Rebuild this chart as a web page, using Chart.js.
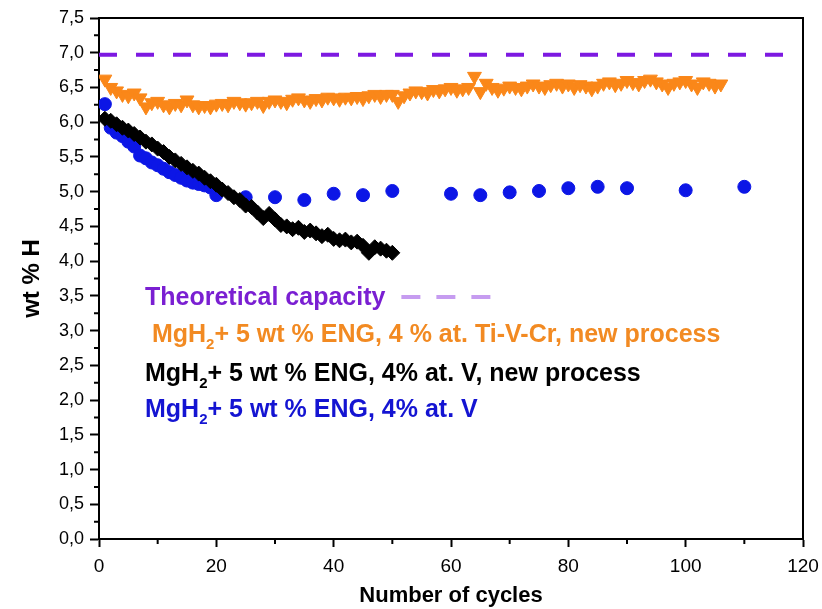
<!DOCTYPE html>
<html>
<head>
<meta charset="utf-8">
<script src="https://cdn.jsdelivr.net/npm/chart.js@4.4.0/dist/chart.umd.min.js"></script>
<style>
    html, body { margin: 0; padding: 0; background: #fff; }
    #wrap { width: 822px; height: 609px; }
</style>
</head>
<body>
<div id="wrap"><canvas id="cap" width="822" height="609"></canvas></div>
<script>
// theoretical capacity
const theoCycles = [0, 120];
const theoValues = [6.97, 6.97];

// MgH2 + 5 wt % ENG, 4 % at. Ti-V-Cr, new process (cycles 1..106)
const orangeValues = [
    6.62, 6.50, 6.45, 6.40, 6.38, 6.42, 6.35, 6.22, 6.28, 6.30,
    6.25, 6.22, 6.27, 6.25, 6.32, 6.25, 6.22, 6.24, 6.22, 6.26,
    6.27, 6.25, 6.30, 6.28, 6.26, 6.28, 6.30, 6.24, 6.30, 6.32,
    6.30, 6.28, 6.33, 6.35, 6.32, 6.30, 6.34, 6.32, 6.36, 6.35,
    6.33, 6.36, 6.35, 6.37, 6.34, 6.38, 6.40, 6.37, 6.40, 6.40,
    6.30, 6.38, 6.42, 6.45, 6.44, 6.42, 6.47, 6.45, 6.48, 6.50,
    6.46, 6.48, 6.50, 6.66, 6.44, 6.56, 6.50, 6.46, 6.49, 6.52,
    6.50, 6.48, 6.52, 6.55, 6.52, 6.50, 6.54, 6.56, 6.52, 6.55,
    6.50, 6.54, 6.52, 6.48, 6.52, 6.56, 6.58, 6.54, 6.56, 6.60,
    6.57, 6.55, 6.60, 6.62, 6.58, 6.55, 6.50, 6.56, 6.58, 6.60,
    6.55, 6.50, 6.58, 6.56, 6.52, 6.55
];

// MgH2 + 5 wt % ENG, 4% at. V, new process (cycles 1..50)
const blackValues = [
    6.05, 6.02, 5.97, 5.92, 5.88, 5.83, 5.78, 5.72, 5.68, 5.62,
    5.57, 5.50, 5.45, 5.40, 5.35, 5.30, 5.26, 5.20, 5.15, 5.10,
    5.03, 4.98, 4.92, 4.88, 4.80, 4.78, 4.70, 4.62, 4.68, 4.60,
    4.52, 4.50, 4.46, 4.48, 4.42, 4.44, 4.40, 4.36, 4.38, 4.32,
    4.30, 4.31, 4.27, 4.28, 4.22, 4.12, 4.20, 4.18, 4.15, 4.12
];

// MgH2 + 5 wt % ENG, 4% at. V
const blueCycles = [
    1, 2, 3, 4, 5, 6, 7, 8, 9, 10, 11, 12, 13, 14, 15, 16, 17, 18, 19, 20,
    25, 30, 35, 40, 45, 50, 60, 65, 70, 75, 80, 85, 90, 100, 110
];
const blueValues = [
    6.26, 5.92, 5.85, 5.80, 5.72, 5.65, 5.52, 5.48, 5.42, 5.38,
    5.33, 5.28, 5.24, 5.20, 5.16, 5.13, 5.11, 5.09, 5.06, 4.95,
    4.92, 4.92, 4.88, 4.97, 4.95, 5.01, 4.97, 4.95, 4.99, 5.01,
    5.05, 5.07, 5.05, 5.02, 5.07
];

const yTicks = ["0,0", "0,5", "1,0", "1,5", "2,0", "2,5", "3,0", "3,5", "4,0", "4,5", "5,0", "5,5", "6,0", "6,5", "7,0", "7,5"];
const xTicks = ["0", "20", "40", "60", "80", "100", "120"];

const legendLines = [
    { pre: "Theoretical capacity", sub: "", post: "", color: "#7a1fd2" },
    { pre: " MgH", sub: "2", post: "+ 5 wt % ENG, 4 % at. Ti-V-Cr, new process", color: "#f28a22" },
    { pre: "MgH", sub: "2", post: "+ 5 wt % ENG, 4% at. V, new process", color: "#000000" },
    { pre: "MgH", sub: "2", post: "+ 5 wt % ENG, 4% at. V", color: "#1414d2" }
];

function pts(xs, ys) {
    return ys.map((v, i) => ({ x: xs[i], y: v }));
}
const seq = (n) => Array.from({ length: n }, (_, i) => i + 1);

const FONT = "'Liberation Sans', Arial, sans-serif";
const LEG_FONT = "bold 25px " + FONT;

// frame, minor ticks and the text legend
const extras = {
    id: "extras",
    afterDraw(chart) {
        const ctx = chart.ctx;
        const a = chart.chartArea;
        const xs = chart.scales.x, ys = chart.scales.y;
        ctx.save();
        ctx.strokeStyle = "#000";
        ctx.lineWidth = 2;
        ctx.beginPath();
        ctx.moveTo(a.left, a.top);
        ctx.lineTo(a.right, a.top);
        ctx.lineTo(a.right, a.bottom);
        ctx.stroke();

        // minor ticks
        ctx.beginPath();
        for (let v = 0.25; v < 7.5; v += 0.5) {
            const py = ys.getPixelForValue(v);
            ctx.moveTo(a.left, py);
            ctx.lineTo(a.left - 5, py);
        }
        for (let c = 10; c < 120; c += 20) {
            const px = xs.getPixelForValue(c);
            ctx.moveTo(px, a.bottom);
            ctx.lineTo(px, a.bottom + 5);
        }
        ctx.stroke();

        // legend text
        const baselines = [305, 342, 381, 417];
        const left = 145;
        ctx.textBaseline = "alphabetic";
        legendLines.forEach((ln, i) => {
            let x = left;
            const y = baselines[i];
            ctx.fillStyle = ln.color;
            ctx.font = LEG_FONT;
            ctx.fillText(ln.pre, x, y);
            x += ctx.measureText(ln.pre).width;
            if (ln.sub) {
                ctx.font = "bold 15px " + FONT;
                ctx.fillText(ln.sub, x, y + 7);
                x += ctx.measureText(ln.sub).width;
                ctx.font = LEG_FONT;
            }
            ctx.fillText(ln.post, x, y);
        });

        // theoretical capacity sample dashes
        ctx.font = LEG_FONT;
        const wTheo = ctx.measureText(legendLines[0].pre).width;
        ctx.strokeStyle = "#c69cf0";
        ctx.lineWidth = 4;
        ctx.setLineDash([19, 16]);
        ctx.beginPath();
        ctx.moveTo(left + wTheo + 16, 297);
        ctx.lineTo(left + wTheo + 16 + 89, 297);
        ctx.stroke();
        ctx.restore();
    }
};

const capChart = new Chart(document.getElementById("cap"), {
    type: "scatter",
    data: {
        datasets: [
            {
                label: "Theoretical capacity",
                data: pts(theoCycles, theoValues),
                showLine: true,
                borderColor: "rgb(125, 25, 225)",
                borderWidth: 4,
                borderDash: [18, 19],
                pointRadius: 0,
                order: 4,
            },
            {
                label: "Ti-V-Cr, new process",
                data: pts(seq(orangeValues.length), orangeValues),
                pointStyle: "triangle",
                rotation: 180,
                pointRadius: 8,
                backgroundColor: "rgb(250, 135, 25)",
                borderColor: "rgb(250, 135, 25)",
                borderWidth: 1,
                order: 3,
            },
            {
                label: "V",
                data: pts(blueCycles, blueValues),
                pointStyle: "circle",
                pointRadius: 6.5,
                backgroundColor: "rgb(12, 22, 230)",
                borderColor: "rgb(12, 22, 230)",
                borderWidth: 1,
                order: 2,
            },
            {
                label: "V, new process",
                data: pts(seq(blackValues.length), blackValues),
                pointStyle: "rectRot",
                pointRadius: 7.5,
                backgroundColor: "#000",
                borderColor: "#000",
                borderWidth: 1,
                order: 1,
            },
        ],
    },
    options: {
        responsive: false,
        animation: false,
        events: [],
        layout: { padding: { top: 18, right: 19, left: 18, bottom: 0 } },
        plugins: {
            legend: { display: false },
            tooltip: { enabled: false },
        },
        scales: {
            x: {
                type: "linear",
                min: 0,
                max: 120,
                afterFit(scale) {
                    scale.height = 70;
                    scale.paddingRight = 0;
                },
                ticks: {
                    stepSize: 20,
                    color: "#000",
                    padding: 8,
                    maxRotation: 0,
                    font: { family: FONT, size: 19 },
                    callback: (v) => xTicks[v / 20],
                },
                grid: { drawOnChartArea: false, color: "#000", tickLength: 8, tickWidth: 2 },
                border: { color: "#000", width: 2 },
                title: {
                    display: true,
                    text: "Number of cycles",
                    color: "#000",
                    padding: { top: 0, bottom: 0 },
                    font: { family: FONT, size: 22, weight: "bold" },
                },
            },
            y: {
                type: "linear",
                min: 0,
                max: 7.5,
                afterFit(scale) { scale.width = 81; },
                ticks: {
                    stepSize: 0.5,
                    color: "#000",
                    padding: 6,
                    font: { family: FONT, size: 18 },
                    callback: (v) => yTicks[Math.round(v * 2)],
                },
                grid: { drawOnChartArea: false, color: "#000", tickLength: 9, tickWidth: 2 },
                border: { color: "#000", width: 2 },
                title: {
                    display: true,
                    text: "wt % H",
                    color: "#000",
                    padding: { top: 0, bottom: 0 },
                    font: { family: FONT, size: 24, weight: "bold" },
                },
            },
        },
    },
    plugins: [extras],
});
</script>
</body>
</html>
